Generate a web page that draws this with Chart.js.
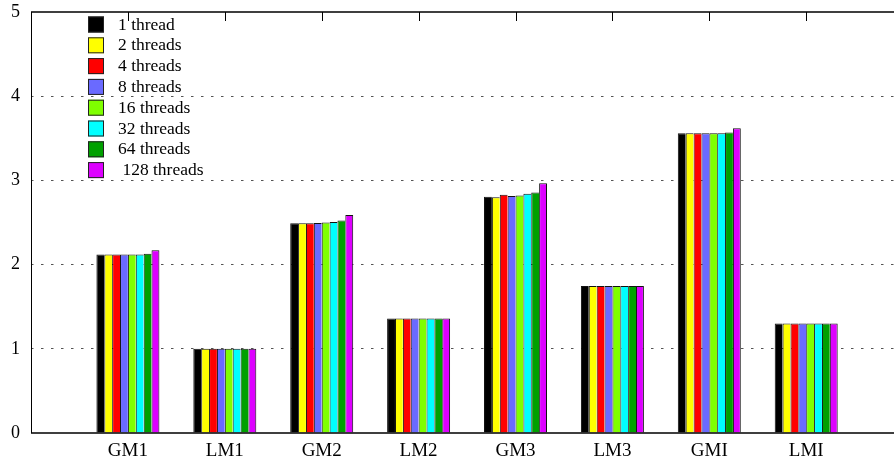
<!DOCTYPE html>
<html>
<head>
<meta charset="utf-8">
<script src="https://cdn.jsdelivr.net/npm/chart.js@4"></script>
<style>
  html, body { margin: 0; padding: 0; background: #fff; }
  #wrap { width: 894px; height: 462px; }
</style>
</head>
<body>
<div id="wrap"><canvas id="chart"></canvas></div>
<script>
const categories = ["GM1", "LM1", "GM2", "LM2", "GM3", "LM3", "GMI", "LMI"];
const seriesLabels = ["1 thread", "2 threads", "4 threads", "8 threads", "16 threads", "32 threads", "64 threads", " 128 threads"];
const seriesColors = ["#000000", "#ffff00", "#ff0000", "#6a6aff", "#7fff00", "#00ffff", "#00a000", "#dd00ff"];
const yTicks = [0, 1, 2, 3, 4, 5];

// one array per thread count, values in category order
const t1   = [2.12, 1.00, 2.49, 1.36, 2.805, 1.745, 3.56, 1.30];
const t2   = [2.12, 1.00, 2.49, 1.36, 2.80, 1.745, 3.56, 1.30];
const t4   = [2.12, 1.00, 2.49, 1.36, 2.83, 1.745, 3.56, 1.30];
const t8   = [2.12, 1.00, 2.495, 1.36, 2.815, 1.745, 3.56, 1.30];
const t16  = [2.12, 1.00, 2.50, 1.36, 2.82, 1.745, 3.56, 1.30];
const t32  = [2.12, 1.00, 2.505, 1.36, 2.84, 1.745, 3.56, 1.30];
const t64  = [2.13, 1.00, 2.525, 1.36, 2.855, 1.745, 3.57, 1.30];
const t128 = [2.17, 1.00, 2.59, 1.36, 2.965, 1.745, 3.62, 1.30];
const series = [t1, t2, t4, t8, t16, t32, t64, t128];

const FONT = "'Liberation Serif', 'DejaVu Serif', serif";

const datasets = series.map((vals, k) => ({
  label: seriesLabels[k],
  data: vals.map((v, i) => ({ x: i, y: v })),
  backgroundColor: seriesColors[k],
  borderColor: "#111",
  borderWidth: k === series.length - 1
    ? { top: 1, left: 1, right: 1, bottom: 0 }
    : { top: 1, left: 1, right: 0, bottom: 0 },
  borderSkipped: false,
  categoryPercentage: 0.65,
  barPercentage: 1.0,
}));

// frame, top ticks and the key inside the plot
const framePlugin = {
  id: "frame",
  afterDraw(chart) {
    const { ctx, chartArea: a, scales } = chart;
    ctx.save();
    ctx.strokeStyle = "#000";
    ctx.lineWidth = 1.5;
    ctx.beginPath();
    ctx.moveTo(a.left, a.top);
    ctx.lineTo(a.right, a.top);
    ctx.moveTo(a.left, a.bottom);
    ctx.lineTo(a.right, a.bottom);
    ctx.stroke();
    ctx.lineWidth = 1;
    ctx.beginPath();
    ctx.moveTo(a.left + 0.5, a.top);
    ctx.lineTo(a.left + 0.5, a.bottom);
    ctx.stroke();

    // key
    ctx.font = "17.5px " + FONT;
    ctx.textBaseline = "middle";
    ctx.textAlign = "left";
    chart.data.datasets.forEach((ds, k) => {
      const y = 16.5 + k * 20.8;
      ctx.fillStyle = ds.backgroundColor;
      ctx.fillRect(88, y, 16, 16);
      ctx.strokeStyle = "#222";
      ctx.lineWidth = 1;
      ctx.strokeRect(88.5, y + 0.5, 15, 15);
      ctx.fillStyle = "#000";
      ctx.fillText(ds.label, 118, y + 8.5);
    });

    // mirror ticks on the top border
    ctx.strokeStyle = "#000";
    ctx.lineWidth = 1;
    ctx.beginPath();
    categories.forEach((c, i) => {
      const x = Math.round(scales.x.getPixelForValue(i)) + 0.5;
      ctx.moveTo(x, a.top);
      ctx.lineTo(x, a.top + 9);
    });
    ctx.stroke();
    ctx.restore();
  }
};

new Chart(document.getElementById("chart"), {
  type: "bar",
  data: { datasets },
  options: {
    responsive: true,
    maintainAspectRatio: false,
    animation: false,
    layout: { padding: { top: 12, right: 0, left: 0, bottom: 0 } },
    plugins: { legend: { display: false }, tooltip: { enabled: false } },
    scales: {
      x: {
        type: "linear",
        offset: false,
        min: -1,
        max: 7.906,
        afterBuildTicks: (s) => { s.ticks = categories.map((c, i) => ({ value: i })); },
        afterFit: (s) => { s.height = 29; s.paddingLeft = 0; s.paddingRight = 0; },
        grid: { display: false, drawTicks: false, offset: false },
        border: { display: false },
        ticks: {
          autoSkip: false,
          maxRotation: 0,
          padding: 7,
          color: "#000",
          font: { family: FONT, size: 19 },
          callback: (v) => categories[v] ?? "",
        },
      },
      y: {
        min: 0,
        max: 5,
        afterBuildTicks: (s) => { s.ticks = yTicks.map((v) => ({ value: v })); },
        afterFit: (s) => { s.width = 31; s.paddingTop = 0; s.paddingBottom = 0; },
        grid: {
          drawTicks: false,
          color: (c) => (c.tick && (c.tick.value === 0 || c.tick.value === 5)) ? "rgba(0,0,0,0)" : "#555",
          lineWidth: 1,
        },
        border: { display: false, dash: [2.5, 7.5] },
        ticks: {
          padding: 11,
          color: "#000",
          font: { family: FONT, size: 18 },
        },
      },
    },
  },
  plugins: [framePlugin],
});
</script>
</body>
</html>
